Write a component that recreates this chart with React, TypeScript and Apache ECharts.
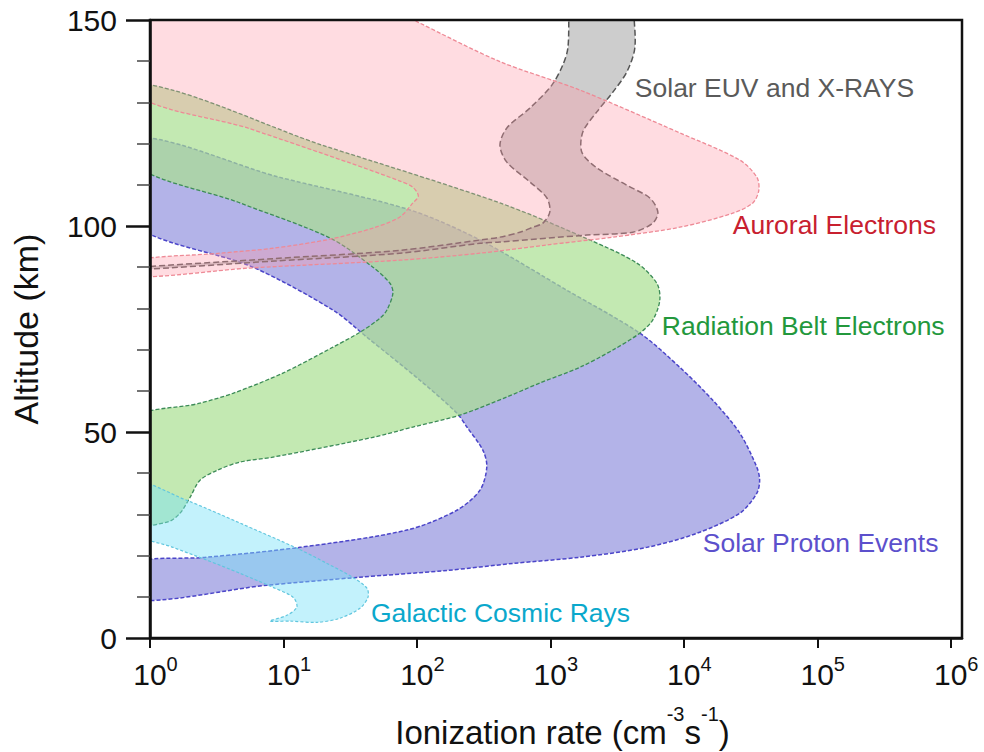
import React, { useEffect, useRef } from 'react';
import * as echarts from 'echarts';

const FONT = '"Liberation Sans", Arial, Helvetica, sans-serif';

// x tick values (ionization rate, cm^-3 s^-1)
const xTickValues = [1, 10, 100, 1000, 1e4, 1e5, 1e6];
const xMin = 1;
const xMax = 1.215e6;
// y axis (altitude km)
const yMin = 0;
const yMax = 150;
const yInterval = 50;

// Region outlines: [ionization rate, altitude km]; points just outside the frame are clipped
const auroralElectrons: [number, number][] = [
  [0.7, 156], [40, 156], [100, 149.6], [419, 139.9], [1663, 133.0], [9330, 122.6], [26300, 116.0],
  [35200, 111.9], [36500, 108.7], [32900, 105.6], [23300, 103.1], [9330, 99.7], [2940, 97.3],
  [942, 95.4], [297, 93.4], [74.6, 91.7], [5.61, 89.8], [0.7, 87.7],
  [0.7, 91.4], [3.35, 93.4], [8.34, 94.6], [22.3, 96.8], [46.8, 99.5], [74.6, 102.2], [93.3, 105.6],
  [102.5, 107.3], [93.3, 109.4], [74.6, 110.9], [31.5, 115.3], [5.61, 123.6], [0.7, 133.3],
];

const solarEUV: [number, number][] = [
  [1390, 156], [1377, 151.9], [1353, 143.2], [1241, 139.1], [1026, 134.2], [702, 128.6], [472, 123.8],
  [419, 119.6], [472, 115.5], [702, 110.7], [942, 106.8], [991, 103.4], [879, 100.7], [740, 99.7],
  [591, 98.5], [419, 97.3], [297, 96.6], [74.6, 94.1], [8.64, 92.1], [0.7, 89.8],
  [0.7, 89.3], [8.64, 91.5], [74.6, 93.4], [297, 95.8], [419, 96.1], [1875, 97.8], [4150, 98.5],
  [5860, 100.7], [6390, 103.4], [5560, 106.8], [3741, 109.9], [2230, 114.1], [1722, 117.9],
  [1751, 122.8], [2230, 127.7], [2940, 132.5], [3741, 137.4], [4295, 143.2], [4220, 151.9], [4200, 156],
];

const radiationBelt: [number, number][] = [
  [0.7, 134.6], [20.5, 119.4], [419, 105.6], [1977, 96.6], [4447, 91.0], [6280, 86.1], [6610, 82.0],
  [5860, 77.2], [4680, 74.0], [2940, 69.9], [1663, 65.7], [834, 61.9], [472, 58.5], [210, 54.1],
  [93.3, 51.2], [46.8, 48.7], [8.34, 43.9], [4.72, 42.7], [3.18, 40.7], [2.37, 38.3], [2.0, 34.2],
  [1.68, 30.3], [1.34, 28.1], [0.7, 27.9],
  [0.7, 52.5], [2.37, 57.0], [4.19, 59.4], [9.91, 64.3], [23.5, 70.6], [37.4, 74.2], [52.8, 77.6],
  [59.6, 79.6], [66.1, 83.7], [62.8, 86.1], [46.8, 90.0], [22.3, 97.1], [4.72, 105.6], [0.7, 116.0],
];

const solarProton: [number, number][] = [
  [0.7, 121.2], [9.42, 111.8], [88.7, 103.9], [297, 96.6], [1330, 84.4], [4680, 74.0], [9330, 65.7],
  [16500, 57.7], [26300, 49.7], [35200, 41.5], [37000, 38.3], [35200, 35.1], [26300, 30.3],
  [12500, 25.4], [5280, 22.0], [1663, 19.6], [524, 18.1], [168, 16.4], [35.5, 14.7], [7.52, 12.8],
  [0.7, 9.3],
  [0.7, 17.9], [2.67, 19.6], [13.3, 22.0], [84.2, 26.2], [199, 31.0], [297, 35.9], [334, 41.5],
  [312, 45.6], [237, 51.2], [199, 54.6], [105, 62.6], [42.2, 73.0], [23.5, 79.6], [5.91, 90.0],
  [0.7, 101.3],
];

const galacticCosmicRays: [number, number][] = [
  [0.7, 38.2], [1.89, 33.4], [4.72, 27.9], [12.6, 21.8], [21.2, 18.1], [33.2, 14.7], [42.2, 12.1],
  [43.0, 9.9], [37.4, 7.2], [26.5, 4.8], [17.8, 3.8], [11.2, 4.1], [7.92, 4.1], [10.6, 5.5],
  [12.6, 7.5], [11.8, 9.9], [8.34, 12.3], [4.72, 15.7], [2.67, 18.9], [1.49, 22.0], [0.7, 26.2],
];

// Annotation texts and their anchors [rate, altitude]
const labelNames = [
  'Solar EUV and X-RAYS',
  'Auroral Electrons',
  'Radiation Belt Electrons',
  'Solar Proton Events',
  'Galactic Cosmic Rays',
];
const labelAnchors: [number, number][] = [
  [4295, 133.5],
  [23300, 100.2],
  [6840, 75.7],
  [13870, 23.0],
  [45.2, 6.0],
];
const labelColors = ['#5a5a5a', '#c8202f', '#23983c', '#5c50cc', '#0aa8cc'];

function region(
  name: string,
  pts: [number, number][],
  fill: string,
  stroke: string,
  dash: number[],
  lw: number,
  z: number
) {
  return {
    type: 'custom',
    name,
    coordinateSystem: 'cartesian2d',
    clip: true,
    silent: true,
    z,
    data: [pts[1]],
    renderItem: (_params: any, api: any) => ({
      type: 'polygon',
      shape: { points: pts.map((p) => api.coord(p)), smooth: 0.3 },
      style: { fill, stroke, lineWidth: lw, lineDash: dash },
    }),
  };
}

export default function App() {
  const ref = useRef<HTMLDivElement>(null);

  useEffect(() => {
    if (!ref.current) return;
    const chart = echarts.init(ref.current, undefined, { renderer: 'svg' });
    const option: any = {
      animation: false,
      textStyle: { fontFamily: FONT },
      grid: {
        left: 150,
        right: 22,
        top: 20,
        bottom: 114,
        show: true,
        borderColor: '#111',
        borderWidth: 2.5,
        backgroundColor: 'transparent',
        z: 20,
        outerBoundsMode: 'none',
      },
      xAxis: {
        type: 'log',
        logBase: 10,
        min: xMin,
        max: xMax,
        z: 20,
        axisLine: { show: true, onZero: false, lineStyle: { color: '#111', width: 2.5 } },
        axisTick: { show: true, length: 10, customValues: xTickValues, lineStyle: { color: '#111', width: 2 } },
        axisLabel: {
          show: true,
          customValues: xTickValues,
          margin: 16,
          color: '#111',
          formatter: (v: number) => `{b|10}{s|${Math.round(Math.log10(v))}}`,
          rich: {
            b: { fontSize: 30, lineHeight: 40, color: '#111', fontFamily: FONT, padding: [0, 0, 0, 11] },
            s: { fontSize: 20, lineHeight: 20, color: '#111', fontFamily: FONT, verticalAlign: 'top' },
          },
        },
        splitLine: { show: false },
        minorTick: { show: false },
        minorSplitLine: { show: false },
        name: '{t|Ionization rate (cm}{s|-3}{t|s}{s|-1}{t|)}',
        nameLocation: 'middle',
        nameGap: 66,
        nameTextStyle: {
          padding: [0, 0, 0, 13],
          rich: {
            t: { fontSize: 33, lineHeight: 56, color: '#111', fontFamily: FONT },
            s: { fontSize: 20, lineHeight: 20, color: '#111', fontFamily: FONT, verticalAlign: 'top' },
          },
        },
      },
      yAxis: {
        type: 'value',
        min: yMin,
        max: yMax,
        interval: yInterval,
        z: 20,
        axisLine: { show: true, onZero: false, lineStyle: { color: '#111', width: 2.5 } },
        axisTick: { show: true, length: 24, lineStyle: { color: '#111', width: 2.5 } },
        minorTick: { show: true, splitNumber: 5, length: 13, lineStyle: { color: '#444', width: 1.5 } },
        axisLabel: { show: true, margin: 33, fontSize: 30, color: '#111', fontFamily: FONT },
        splitLine: { show: false },
        minorSplitLine: { show: false },
        name: 'Altitude (km)',
        nameLocation: 'middle',
        nameGap: 107,
        nameRotate: 90,
        nameTextStyle: { fontSize: 34, color: '#111', fontFamily: FONT },
      },
      series: [
        region('Solar Proton Events', solarProton, 'rgba(110,110,210,0.52)', '#4b45c9', [4, 2], 1.5, 2),
        region('Radiation Belt Electrons', radiationBelt, 'rgba(169,224,145,0.7)', '#3d8c58', [4, 2], 1.3, 3),
        region('Solar EUV and X-RAYS', solarEUV, 'rgba(150,150,150,0.48)', '#555555', [6, 3], 1.5, 4),
        region('Auroral Electrons', auroralElectrons, 'rgba(255,155,169,0.35)', '#ee8a96', [4, 2], 1.3, 5),
        region('Galactic Cosmic Rays', galacticCosmicRays, 'rgba(122,227,249,0.45)', '#62c6de', [3, 2], 1.2, 6),
        {
          type: 'scatter',
          silent: true,
          z: 10,
          symbolSize: 0,
          itemStyle: { opacity: 1 },
          data: labelAnchors.map((a, i) => ({
            value: a,
            label: { show: true, formatter: labelNames[i], color: labelColors[i], opacity: 1 },
          })),
          label: { position: 'right', distance: 0, fontSize: 26.5, fontFamily: FONT, opacity: 1 },
        },
      ],
    };
    chart.setOption(option);
    return () => chart.dispose();
  }, []);

  return (
    <div
      ref={ref}
      style={{ position: 'fixed', left: 0, top: 0, width: 984, height: 752, background: '#fff' }}
    />
  );
}
